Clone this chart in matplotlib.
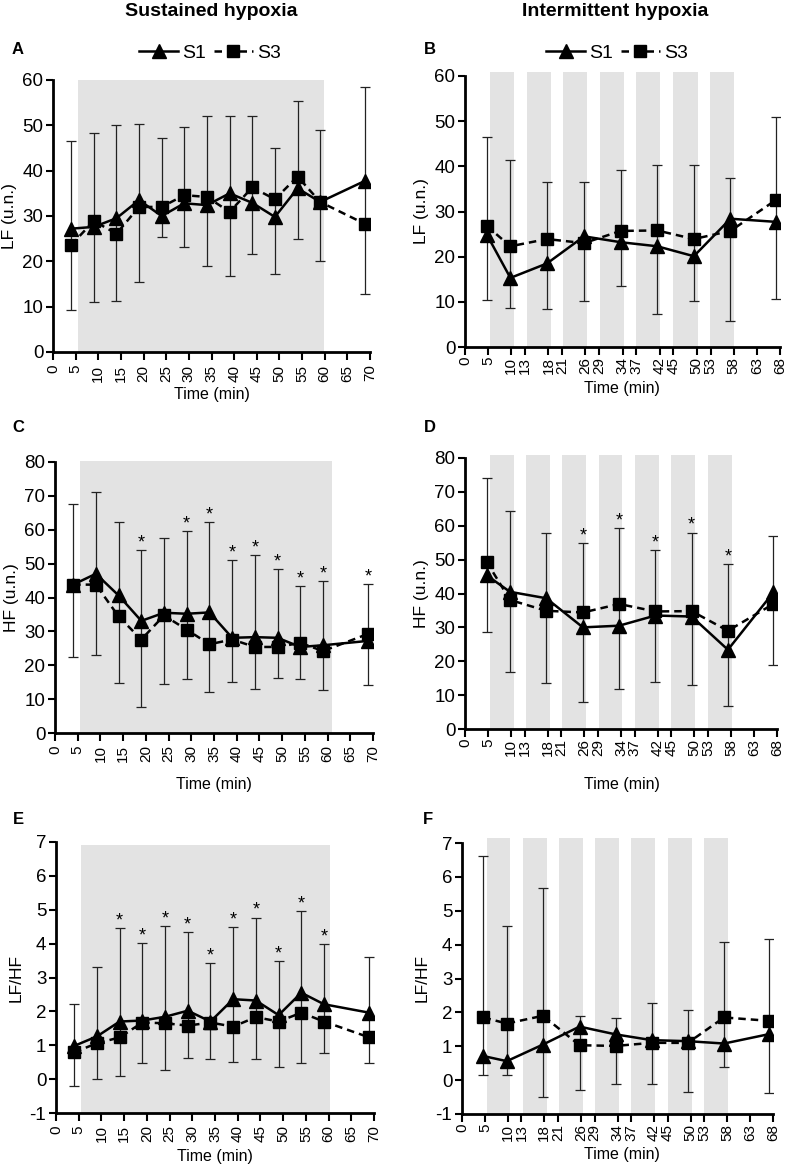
import matplotlib.pyplot as plt
import numpy as np
from matplotlib.lines import Line2D

plt.rcParams['font.family'] = ['Liberation Sans', 'DejaVu Sans']
plt.rcParams['axes.unicode_minus'] = False

# ---- time axes ----
t_sus = [4, 9, 14, 19, 24, 29, 34, 39, 44, 49, 54, 59, 69]
t_int = [4.7, 9.8, 17.7, 25.7, 33.6, 41.5, 49.4, 57.3, 67.2]
ticks_sus = list(range(0, 71, 5))
ticks_int = [0, 5, 10, 13, 18, 21, 26, 29, 34, 37, 42, 45, 50, 53, 58, 63, 68]
hyp_bands = [(5.4, 10.6), (13.3, 18.5), (21.2, 26.4), (29.1, 34.3),
             (37.0, 42.2), (45.0, 50.2), (52.9, 58.1)]

# ---- A: LF sustained ----
lf_sus_s1 = [27.2, 27.6, 29.5, 33.5, 30.0, 32.8, 32.4, 35.0, 32.9, 29.8, 36.1, 33.1, 37.8]
lf_sus_s3 = [23.6, 28.9, 26.1, 32.0, 32.0, 34.6, 34.2, 30.9, 36.3, 33.7, 38.7, 33.1, 28.2]
lf_sus_hi = [46.6, 48.2, 50.1, 50.2, 47.1, 49.6, 52.1, 52.1, 52.0, 45.1, 55.4, 49.0, 58.5]
lf_sus_lo = [9.2, 11.0, 11.2, 15.4, 25.4, 23.2, 18.9, 16.7, 21.6, 17.1, 25.0, 20.0, 12.7]

# ---- B: LF intermittent ----
lf_int_s1 = [24.9, 15.3, 18.5, 24.5, 23.2, 22.3, 20.1, 28.4, 27.7]
lf_int_s3 = [26.8, 22.3, 23.9, 23.0, 25.7, 25.8, 23.9, 25.7, 32.6]
lf_int_hi = [46.5, 41.5, 36.5, 36.5, 39.2, 40.4, 40.4, 37.4, 50.9]
lf_int_lo = [10.5, 8.6, 8.5, 10.2, 13.5, 7.2, 10.2, 5.7, 10.7]

# ---- C: HF sustained ----
hf_sus_s1 = [43.8, 47.0, 40.6, 33.1, 35.5, 35.2, 35.6, 28.1, 28.3, 28.1, 25.4, 25.9, 27.2]
hf_sus_s3 = [43.8, 43.8, 34.4, 27.6, 34.7, 30.5, 26.2, 27.6, 25.4, 25.4, 26.6, 24.2, 29.3]
hf_sus_hi = [67.5, 71.2, 62.3, 54.1, 57.7, 59.6, 62.3, 51.0, 52.4, 48.5, 43.3, 44.9, 44.1]
hf_sus_lo = [22.4, 22.9, 14.8, 7.7, 14.6, 16.0, 12.1, 15.1, 12.9, 16.3, 16.0, 12.8, 14.3]
hf_sus_star = [False, False, False, True, False, True, True, True, True, True, True, True, True]

# ---- D: HF intermittent ----
hf_int_s1 = [45.4, 40.5, 38.6, 30.0, 30.5, 33.5, 33.2, 23.4, 40.3]
hf_int_s3 = [49.4, 38.1, 34.9, 34.4, 36.9, 34.7, 34.8, 29.0, 36.9]
hf_int_hi = [74.2, 64.4, 58.0, 54.8, 59.4, 52.8, 58.0, 48.7, 56.9]
hf_int_lo = [28.6, 16.7, 13.5, 7.9, 11.9, 13.8, 13.1, 6.7, 18.9]
hf_int_star = [False, False, False, True, True, True, True, True, False]

# ---- E: LF/HF sustained ----
ratio_sus_s1 = [0.98, 1.26, 1.70, 1.73, 1.84, 2.02, 1.70, 2.36, 2.32, 1.89, 2.55, 2.21, 1.96]
ratio_sus_s3 = [0.79, 1.06, 1.23, 1.67, 1.65, 1.58, 1.67, 1.55, 1.83, 1.70, 1.96, 1.70, 1.23]
ratio_sus_hi = [2.21, 3.32, 4.45, 4.02, 4.52, 4.35, 3.42, 4.49, 4.77, 3.48, 4.97, 4.00, 3.61]
ratio_sus_lo = [-0.20, 0.00, 0.08, 0.48, 0.27, 0.61, 0.60, 0.50, 0.60, 0.36, 0.48, 0.77, 0.48]
ratio_sus_star = [False, False, True, True, True, True, True, True, True, True, True, True, False]

# ---- F: LF/HF intermittent ----
ratio_int_s1 = [0.71, 0.56, 1.05, 1.58, 1.35, 1.18, 1.15, 1.08, 1.36]
ratio_int_s3 = [1.85, 1.67, 1.90, 1.03, 1.01, 1.10, 1.10, 1.85, 1.75]
ratio_int_hi = [6.63, 4.55, 5.68, 1.90, 1.84, 2.27, 2.07, 4.08, 4.18]
ratio_int_lo = [0.15, 0.15, -0.51, -0.28, -0.11, -0.10, -0.36, 0.39, -0.39]

W, H = 789, 1169
fig = plt.figure(figsize=(W / 100, H / 100), dpi=100)


def px_axes(l, t, r, b):
    return fig.add_axes([l / W, 1 - b / H, (r - l) / W, (b - t) / H])


def draw_panel(ax, t, s1, s3, hi, lo, stars, xticks, xmax, ylim, ystep, ylabel,
               bands, band_top, xpad):
    for a, b in bands:
        frac = (band_top - ylim[0]) / (ylim[1] - ylim[0])
        ax.axvspan(a, b, ymin=0, ymax=frac, color='#e3e3e3', lw=0, zorder=0, clip_on=False)
    hi = np.array(hi)
    lo = np.array(lo)
    mid = (hi + lo) / 2
    ax.errorbar(t, mid, yerr=(hi - lo) / 2, fmt='none', ecolor='#222222',
                elinewidth=0.9, capsize=3.5, capthick=0.9, zorder=2)
    ax.plot(t, s1, '-', color='black', lw=1.8, marker='^', ms=9.5, zorder=4)
    ax.plot(t, s3, '--', color='black', lw=1.8, marker='s', ms=8, zorder=3, dashes=(3, 2))
    if stars is not None:
        for x, y, s in zip(t, hi, stars):
            if s:
                ax.annotate('*', (x, y), xytext=(0, -1), textcoords='offset points',
                            ha='center', va='bottom', fontsize=13)
    ax.set_xlim(0, xmax)
    ax.set_ylim(*ylim)
    ax.set_xticks(xticks)
    ax.set_xticklabels([str(v) for v in xticks], rotation=90, fontsize=11)
    ax.set_yticks(np.arange(ylim[0], ylim[1] + 0.01, ystep))
    ax.tick_params(axis='y', labelsize=13.5, width=1.5, length=5, direction='out', pad=2)
    ax.tick_params(axis='x', width=1.5, length=6, direction='out', pad=xpad)
    for sp in ['top', 'right']:
        ax.spines[sp].set_visible(False)
    for sp in ['left', 'bottom']:
        ax.spines[sp].set_linewidth(2)
    ax.set_ylabel(ylabel, fontsize=12.5, labelpad=4)


axA = px_axes(53, 80, 370, 352)
axB = px_axes(465, 76, 780, 347)
axC = px_axes(55, 462, 373, 733)
axD = px_axes(465, 458, 777, 729)
axE = px_axes(56, 842, 374, 1113)
axF = px_axes(462, 843, 773, 1114)

draw_panel(axA, t_sus, lf_sus_s1, lf_sus_s3, lf_sus_hi, lf_sus_lo, None,
           ticks_sus, 70, (0, 60), 10, 'LF (u.n.)', [(5.6, 59.8)], 60, 3)
draw_panel(axB, t_int, lf_int_s1, lf_int_s3, lf_int_hi, lf_int_lo, None,
           ticks_int, 68, (0, 60), 10, 'LF (u.n.)', hyp_bands, 60.9, 1)
draw_panel(axC, t_sus, hf_sus_s1, hf_sus_s3, hf_sus_hi, hf_sus_lo, hf_sus_star,
           ticks_sus, 70, (0, 80), 10, 'HF (u.n.)', [(5.6, 61.0)], 80.3, 3)
draw_panel(axD, t_int, hf_int_s1, hf_int_s3, hf_int_hi, hf_int_lo, hf_int_star,
           ticks_int, 68, (0, 80), 10, 'HF (u.n.)', hyp_bands, 81, 1)
draw_panel(axE, t_sus, ratio_sus_s1, ratio_sus_s3, ratio_sus_hi, ratio_sus_lo, ratio_sus_star,
           ticks_sus, 70, (-1, 7), 1, 'LF/HF', [(5.4, 60.3)], 6.9, 3)
draw_panel(axF, t_int, ratio_int_s1, ratio_int_s3, ratio_int_hi, ratio_int_lo, None,
           ticks_int, 68, (-1, 7), 1, 'LF/HF', hyp_bands, 7.15, 1)

# x labels (pixel centres)
for x, y in [(212, 395), (622, 389), (214, 784), (622, 784), (215, 1157), (622, 1154)]:
    fig.text(x / W, 1 - y / H, 'Time (min)', ha='center', va='center', fontsize=11.5)

# column titles
fig.text(211 / W, 1 - 12 / H, 'Sustained hypoxia', ha='center', va='center',
         fontsize=14, fontweight='bold')
fig.text(615 / W, 1 - 12 / H, 'Intermittent hypoxia', ha='center', va='center',
         fontsize=14, fontweight='bold')

# panel letters
for lab, x, y in [('A', 18, 50), ('B', 430, 50), ('C', 18, 427), ('D', 430, 428),
                  ('E', 18, 820), ('F', 428, 820)]:
    fig.text(x / W, 1 - y / H, lab, ha='center', va='center', fontsize=12, fontweight='bold')

# legends
h1 = Line2D([], [], color='black', lw=1.8, marker='^', ms=10)
h3 = Line2D([], [], color='black', lw=1.8, ls='--', marker='s', ms=8, dashes=(3, 2))
for cx in [210, 617]:
    fig.legend([h1, h3], ['S1', 'S3'], loc='center', bbox_to_anchor=(cx / W, 1 - 53 / H),
               ncol=2, frameon=False, fontsize=14, handlelength=2.0, handletextpad=0.2,
               columnspacing=0.4, numpoints=1)

fig.savefig('out.png', dpi=100)
